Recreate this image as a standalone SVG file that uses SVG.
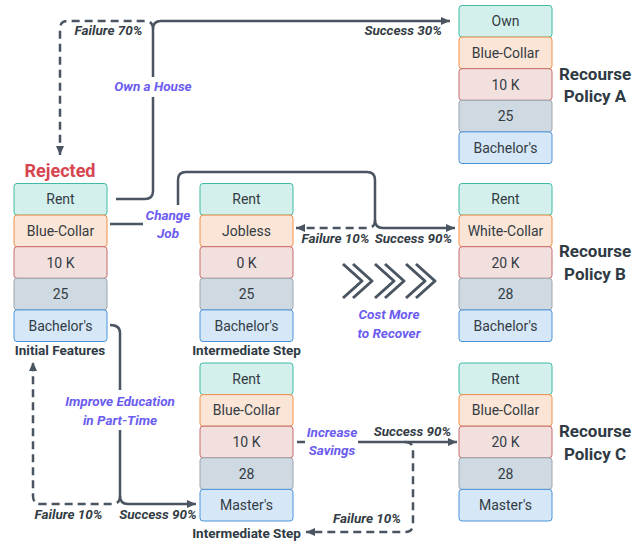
<svg xmlns="http://www.w3.org/2000/svg" width="644" height="541" viewBox="0 0 644 541">
<style>
  .c rect{stroke-width:1.5}
  .t{fill:#d4f0ec;stroke:#3fbba6}
  .o{fill:#fbe5d6;stroke:#f0904a}
  .r{fill:#f2e0df;stroke:#c86a6a}
  .g{fill:#cfd9e1;stroke:#9aa5ae}
  .b{fill:#d6e7f7;stroke:#4a94dc}
  .ct{font-family:Roboto,"Liberation Sans",sans-serif;font-size:14px;fill:#333c44;text-anchor:middle}
  .ttl{font-family:Roboto,"Liberation Sans",sans-serif;font-size:13.5px;font-weight:bold;fill:#2f3a44;text-anchor:middle}
  .pol{font-family:Roboto,"Liberation Sans",sans-serif;font-size:17px;font-weight:bold;fill:#2f3a44;text-anchor:middle}
  .lab{font-family:Roboto,"Liberation Sans",sans-serif;font-size:13.5px;font-weight:bold;font-style:italic;fill:#333c44}
  .act{font-family:Roboto,"Liberation Sans",sans-serif;font-size:13.5px;font-weight:bold;font-style:italic;fill:#6b5cf0;text-anchor:middle}
  .ln{fill:none;stroke:#4a5561;stroke-width:2.5;stroke-linecap:butt;stroke-linejoin:round}
  .ds{stroke-dasharray:8 5}
</style>
<defs>
  <marker id="ah" markerUnits="userSpaceOnUse" markerWidth="10" markerHeight="10" viewBox="0 0 10 10" refX="9" refY="5" orient="auto">
    <path d="M0,1 L9,5 L0,9 Z" fill="#4a5561"/>
  </marker>
  <g id="rows">
    <rect class="t" x="0" y="0" width="93" height="31.6" rx="3"/>
    <rect class="o" x="0" y="31.6" width="93" height="31.6" rx="3"/>
    <rect class="r" x="0" y="63.2" width="93" height="31.6" rx="3"/>
    <rect class="g" x="0" y="94.8" width="93" height="31.6" rx="3"/>
    <rect class="b" x="0" y="126.4" width="93" height="31.6" rx="3"/>
  </g>
</defs>
<rect width="644" height="541" fill="#ffffff"/>

<g id="connectors">
  <!-- Own a House -->
  <path class="ln" d="M116,199 H145 Q153,199 153,191 V97"/>
  <path class="ln" d="M153,77 V29 Q153,21 161,21 H450" marker-end="url(#ah)"/>
  <path class="ln ds" d="M153,29 Q153,21 145,21 H68 Q60,21 60,29 V155" marker-end="url(#ah)"/>
  <!-- Change Job -->
  <path class="ln" d="M110,224 H143"/>
  <path class="ln" d="M178,205 V180 Q178,172 186,172 H367 Q375,172 375,180 V220 Q375,228 383,228 H455" marker-end="url(#ah)"/>
  <path class="ln ds" d="M375,220 Q375,228 367,228 H296" marker-end="url(#ah)"/>
  <!-- Improve Education -->
  <path class="ln" d="M110,325 Q120,325 120,333 V390"/>
  <path class="ln" d="M120,430 V496 Q120,504 128,504 H196" marker-end="url(#ah)"/>
  <path class="ln ds" d="M120,496 Q120,504 112,504 H41 Q33,504 33,496 V362" marker-end="url(#ah)"/>
  <!-- Increase Savings -->
  <path class="ln" d="M297,442 H305"/>
  <path class="ln" d="M358,442 H457" marker-end="url(#ah)"/>
  <path class="ln ds" d="M405,442 Q413,442 413,450 V524 Q413,532 405,532 H306" marker-end="url(#ah)"/>
  <!-- chevrons -->
  <g class="ln" style="stroke-width:3">
    <path d="M343,264 L362,281 L343,298"/>
    <path d="M353,264 L372,281 L353,298"/>
    <path d="M375,264 L394,281 L375,298"/>
    <path d="M385,264 L404,281 L385,298"/>
    <path d="M406,264 L425,281 L406,298"/>
    <path d="M416,264 L435,281 L416,298"/>
  </g>
  <!-- connector labels -->
  <text class="lab" x="108.5" y="35" text-anchor="middle">Failure 70%</text>
  <text class="lab" x="442" y="35" text-anchor="end">Success 30%</text>
  <text class="act" x="153" y="91">Own a House</text>
  <text class="act" x="168" y="220">Change</text>
  <text class="act" x="168" y="238">Job</text>
  <text class="lab" x="335.5" y="243" text-anchor="middle">Failure 10%</text>
  <text class="lab" x="413.5" y="243" text-anchor="middle">Success 90%</text>
  <text class="act" x="389" y="319">Cost More</text>
  <text class="act" x="389" y="338">to Recover</text>
  <text class="act" x="120" y="406">Improve Education</text>
  <text class="act" x="120" y="425">in Part-Time</text>
  <text class="lab" x="68.5" y="519" text-anchor="middle">Failure 10%</text>
  <text class="lab" x="158" y="519" text-anchor="middle">Success 90%</text>
  <text class="act" x="332" y="437">Increase</text>
  <text class="act" x="332" y="455">Savings</text>
  <text class="lab" x="412.5" y="436" text-anchor="middle">Success 90%</text>
  <text class="lab" x="367" y="523" text-anchor="middle">Failure 10%</text>
</g>

<g id="initial">
  <text x="60" y="177" font-family="Roboto,'Liberation Sans',sans-serif" font-size="18" font-weight="bold" fill="#d64550" text-anchor="middle">Rejected</text>
  <g class="c" transform="translate(14,183.5)">
    <use href="#rows"/>
    <text class="ct" x="46.5" y="20.8">Rent</text>
    <text class="ct" x="46.5" y="52.4">Blue-Collar</text>
    <text class="ct" x="46.5" y="84">10 K</text>
    <text class="ct" x="46.5" y="115.6">25</text>
    <text class="ct" x="46.5" y="147.2">Bachelor's</text>
  </g>
  <text class="ttl" x="60" y="355">Initial Features</text>
</g>

<g id="intermediate1">
  <g class="c" transform="translate(200,183.5)">
    <use href="#rows"/>
    <text class="ct" x="46.5" y="20.8">Rent</text>
    <text class="ct" x="46.5" y="52.4">Jobless</text>
    <text class="ct" x="46.5" y="84">0 K</text>
    <text class="ct" x="46.5" y="115.6">25</text>
    <text class="ct" x="46.5" y="147.2">Bachelor's</text>
  </g>
  <text class="ttl" x="246.5" y="355">Intermediate Step</text>
</g>

<g id="intermediate2">
  <g class="c" transform="translate(200,363)">
    <use href="#rows"/>
    <text class="ct" x="46.5" y="20.8">Rent</text>
    <text class="ct" x="46.5" y="52.4">Blue-Collar</text>
    <text class="ct" x="46.5" y="84">10 K</text>
    <text class="ct" x="46.5" y="115.6">28</text>
    <text class="ct" x="46.5" y="147.2">Master's</text>
  </g>
  <text class="ttl" x="246.5" y="538">Intermediate Step</text>
</g>

<g id="policyA">
  <g class="c" transform="translate(459,5.5)">
    <use href="#rows"/>
    <text class="ct" x="46.5" y="20.8">Own</text>
    <text class="ct" x="46.5" y="52.4">Blue-Collar</text>
    <text class="ct" x="46.5" y="84">10 K</text>
    <text class="ct" x="46.5" y="115.6">25</text>
    <text class="ct" x="46.5" y="147.2">Bachelor's</text>
  </g>
  <text class="pol" x="595" y="80">Recourse</text>
  <text class="pol" x="595" y="102">Policy A</text>
</g>

<g id="policyB">
  <g class="c" transform="translate(459,183.5)">
    <use href="#rows"/>
    <text class="ct" x="46.5" y="20.8">Rent</text>
    <text class="ct" x="46.5" y="52.4">White-Collar</text>
    <text class="ct" x="46.5" y="84">20 K</text>
    <text class="ct" x="46.5" y="115.6">28</text>
    <text class="ct" x="46.5" y="147.2">Bachelor's</text>
  </g>
  <text class="pol" x="595" y="257">Recourse</text>
  <text class="pol" x="595" y="280">Policy B</text>
</g>

<g id="policyC">
  <g class="c" transform="translate(459,363)">
    <use href="#rows"/>
    <text class="ct" x="46.5" y="20.8">Rent</text>
    <text class="ct" x="46.5" y="52.4">Blue-Collar</text>
    <text class="ct" x="46.5" y="84">20 K</text>
    <text class="ct" x="46.5" y="115.6">28</text>
    <text class="ct" x="46.5" y="147.2">Master's</text>
  </g>
  <text class="pol" x="595" y="437">Recourse</text>
  <text class="pol" x="595" y="460">Policy C</text>
</g>
</svg>
